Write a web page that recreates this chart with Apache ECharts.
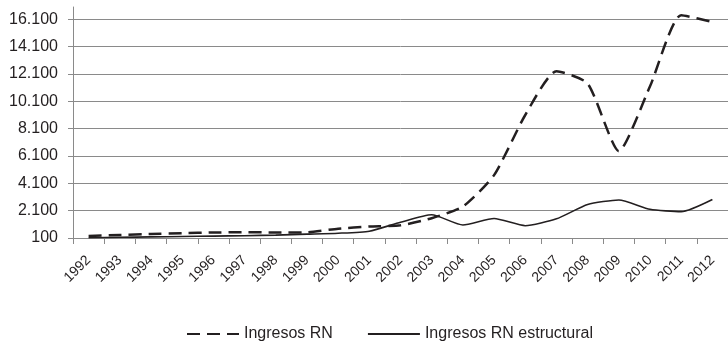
<!DOCTYPE html>
<html>
<head>
<meta charset="utf-8">
<script src="https://cdn.jsdelivr.net/npm/echarts@6/dist/echarts.min.js"></script>
<style>
  html, body { margin: 0; padding: 0; background: #fff; }
  #chart { width: 728px; height: 341px; }
</style>
</head>
<body>
<div id="chart"></div>
<script>
// años
const years = ["1992", "1993", "1994", "1995", "1996", "1997", "1998", "1999", "2000", "2001", "2002",
  "2003", "2004", "2005", "2006", "2007", "2008", "2009", "2010", "2011", "2012"];

// Ingresos RN (línea discontinua)
const ingresosRN = [250, 320, 390, 450, 500, 530, 500, 520, 780, 940, 1030,
  1550, 2400, 4700, 9100, 12300, 11400, 6450, 11200, 16400, 15900];

// Ingresos RN estructural (línea continua)
const ingresosEstructural = [120, 150, 180, 210, 240, 270, 310, 380, 450, 600, 1250,
  1800, 1050, 1530, 1000, 1500, 2550, 2880, 2200, 2030, 2920];

const ink = "#231f20";
const gridGray = "#8a8a8a";
const font = "Liberation Sans";

const myChart = echarts.init(document.getElementById("chart"));

const option = {
  animation: false,
  textStyle: { fontFamily: font, color: ink },
  grid: { left: 73, right: -7, top: 7, bottom: 103 },
  legend: {
    left: 181,
    top: 321,
    itemWidth: 52,
    itemHeight: 14,
    itemGap: 34,
    itemStyle: { opacity: 0 },
    textStyle: { fontFamily: font, fontSize: 16, color: ink },
    data: ["Ingresos RN", "Ingresos RN estructural"],
  },
  xAxis: {
    type: "category",
    boundaryGap: true,
    data: years,
    axisLine: { lineStyle: { color: gridGray, width: 1 } },
    axisTick: { show: true, length: 6, lineStyle: { color: gridGray } },
    axisLabel: {
      interval: 0,
      rotate: 45,
      margin: 20,
      fontSize: 14,
      color: ink,
      fontFamily: font,
    },
  },
  yAxis: {
    type: "value",
    min: 100,
    max: 17000,
    interval: 2000,
    axisLine: { show: true, lineStyle: { color: gridGray, width: 1 } },
    axisTick: { show: true, length: 5, lineStyle: { color: gridGray } },
    axisLabel: {
      margin: 15,
      fontSize: 16,
      color: ink,
      fontFamily: font,
      showMaxLabel: false,
      formatter: (v) => (v > 16500 ? "" : String(v).replace(/\B(?=(\d{3})+(?!\d))/g, ".")),
    },
    splitLine: {
      show: true,
      showMaxLine: false,
      lineStyle: { color: gridGray, width: 1 },
    },
  },
  series: [
    {
      name: "Ingresos RN",
      type: "line",
      smooth: 0.2,
      symbol: "none",
      data: ingresosRN,
      lineStyle: { color: ink, width: 2.5, type: [13, 7] },
      itemStyle: { color: ink },
    },
    {
      name: "Ingresos RN estructural",
      type: "line",
      smooth: 0.2,
      symbol: "none",
      data: ingresosEstructural,
      lineStyle: { color: ink, width: 1.6 },
      itemStyle: { color: ink },
    },
  ],
};

myChart.setOption(option);
</script>
</body>
</html>
